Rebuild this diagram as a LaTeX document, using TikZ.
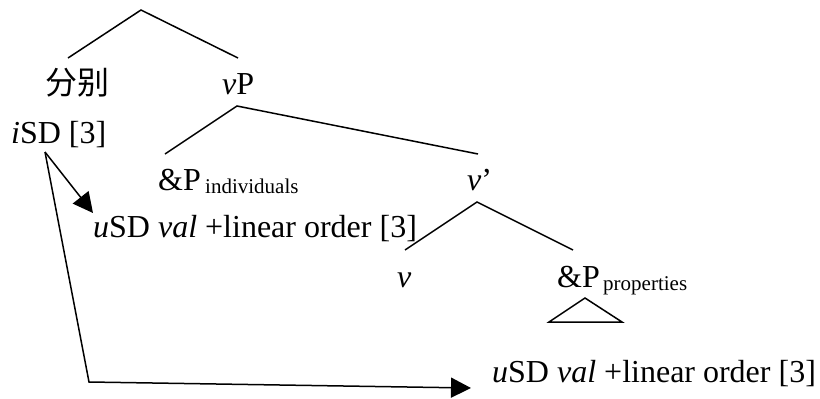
\documentclass[tikz,border=0pt]{standalone}
\usepackage{fontspec}
\setmainfont{Liberation Serif}
\newfontfamily\cjkfont{Noto Sans CJK SC}
\usetikzlibrary{arrows.meta}

\begin{document}
\begin{tikzpicture}[
  x=1pt,y=-1pt,
  lbl/.style={inner sep=0pt,anchor=base west,font=\fontsize{32}{38}\selectfont},
  sublbl/.style={inner sep=0pt,anchor=base west,font=\fontsize{21}{25}\selectfont},
  branch/.style={line width=1.5pt},
  link/.style={line width=1.5pt,-{Triangle[length=20pt,width=20pt]}}
]
\useasboundingbox (0,0) rectangle (820,399);

% tree points
\coordinate (root) at (141,10);
\coordinate (fbtop) at (68,58);
\coordinate (vptop) at (238,58);
\coordinate (vpfork) at (237,106);
\coordinate (indtop) at (165,154);
\coordinate (vbartop) at (478,154);
\coordinate (vbarfork) at (477,202);
\coordinate (vtop) at (405,250);
\coordinate (proptop) at (573,250);

% labels
\node[lbl] (fenbie) at (45,94) {\cjkfont 分别};
\node[lbl] (vp) at (222,94) {\textit{v}P};
\node[lbl] (isd) at (11,143) {\textit{i}SD [3]};
\node[lbl] (andind) at (158,190) {\&P};
\node[sublbl] (indsub) at (205,193) {individuals};
\node[lbl] (usdone) at (93,237) {\textit{u}SD \textit{val} +linear order [3]};
\node[lbl] (vbar) at (467,190) {\textit{v}’};
\node[lbl] (v) at (397,287) {\textit{v}};
\node[lbl] (andprop) at (557,287) {\&P};
\node[sublbl] (propsub) at (603,290) {properties};
\node[lbl] (usdtwo) at (492,382) {\textit{u}SD \textit{val} +linear order [3]};

% branches
\draw[branch] (fbtop) -- (root) -- (vptop);
\draw[branch] (indtop) -- (vpfork) -- (vbartop);
\draw[branch] (vtop) -- (vbarfork) -- (proptop);
\draw[branch] (585,298) -- (549,322) -- (622,322) -- cycle;

% agreement arrows
\coordinate (isdfoot) at (45,152);
\coordinate (bend) at (89,382);
\coordinate (tipone) at (93,213);
\coordinate (tiptwo) at (471,388);
\draw[link] (isdfoot) -- (tipone);
\draw[link] (isdfoot) -- (bend) -- (tiptwo);
\end{tikzpicture}
\end{document}
